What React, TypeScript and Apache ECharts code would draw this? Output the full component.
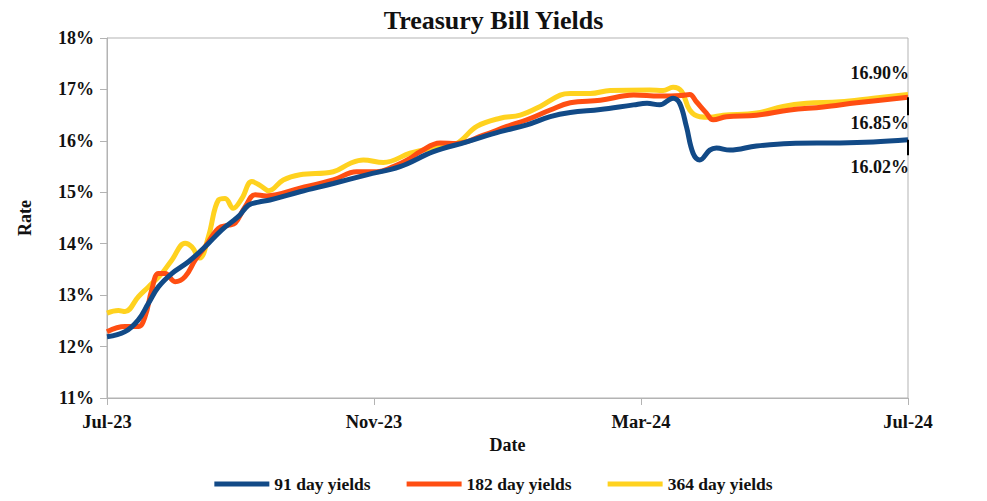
import React, { useEffect, useRef } from "react";
import * as echarts from "echarts";

// x positions are months elapsed since Jul-23
const tickLabels = ["Jul-23", "Nov-23", "Mar-24", "Jul-24"];

const months91 = [0, 0.27, 0.47, 0.62, 0.77, 0.97, 1.22, 1.47, 1.72, 1.97, 2.12, 2.27, 2.44, 2.89, 3.39, 3.89, 4.39, 4.89, 5.39, 5.89, 6.29, 6.64, 6.94, 7.39, 7.89, 8.09, 8.28, 8.48, 8.58, 8.68, 8.78, 8.88, 9.03, 9.13, 9.33, 9.73, 10.23, 10.98, 11.48, 12];
const yields91 = [12.19, 12.29, 12.52, 12.84, 13.16, 13.42, 13.65, 13.94, 14.27, 14.53, 14.75, 14.81, 14.85, 15.01, 15.17, 15.34, 15.5, 15.79, 15.98, 16.18, 16.31, 16.47, 16.55, 16.61, 16.7, 16.73, 16.7, 16.83, 16.73, 16.28, 15.76, 15.63, 15.82, 15.86, 15.82, 15.9, 15.95, 15.96, 15.98, 16.02];

const months182 = [0, 0.27, 0.47, 0.57, 0.67, 0.77, 0.87, 1.02, 1.17, 1.32, 1.47, 1.67, 1.82, 1.92, 2.07, 2.22, 2.39, 2.89, 3.39, 3.74, 4.04, 4.29, 4.54, 4.69, 4.99, 5.24, 5.64, 5.99, 6.29, 6.64, 6.94, 7.39, 7.89, 8.28, 8.6, 8.73, 8.83, 8.98, 9.08, 9.28, 9.73, 10.23, 10.73, 11.23, 12];
const yields182 = [12.29, 12.39, 12.39, 12.58, 13.1, 13.42, 13.42, 13.26, 13.36, 13.68, 13.94, 14.3, 14.36, 14.4, 14.72, 14.95, 14.93, 15.08, 15.24, 15.4, 15.4, 15.5, 15.66, 15.79, 15.96, 15.95, 16.11, 16.28, 16.41, 16.6, 16.74, 16.79, 16.89, 16.87, 16.88, 16.9, 16.76, 16.54, 16.41, 16.47, 16.5, 16.6, 16.66, 16.74, 16.85];

const months364 = [0, 0.17, 0.27, 0.47, 0.62, 0.82, 0.97, 1.17, 1.27, 1.39, 1.52, 1.67, 1.77, 1.89, 2.02, 2.17, 2.32, 2.42, 2.64, 2.89, 3.39, 3.64, 3.84, 4.14, 4.54, 4.69, 4.99, 5.24, 5.54, 5.89, 6.19, 6.49, 6.79, 6.94, 7.24, 7.54, 8.13, 8.33, 8.48, 8.61, 8.73, 8.88, 9.03, 9.23, 9.73, 10.13, 10.48, 10.98, 11.48, 12];
const yields364 = [12.65, 12.7, 12.68, 12.97, 13.16, 13.42, 13.68, 14.01, 13.94, 13.72, 14.14, 14.85, 14.88, 14.69, 14.88, 15.21, 15.11, 15.03, 15.24, 15.34, 15.4, 15.56, 15.63, 15.58, 15.76, 15.81, 15.89, 15.95, 16.28, 16.44, 16.5, 16.67, 16.89, 16.92, 16.92, 16.98, 16.99, 16.98, 17.04, 16.96, 16.6, 16.47, 16.46, 16.5, 16.54, 16.67, 16.73, 16.76, 16.83, 16.9];

const seriesNames = ["91 day yields", "182 day yields", "364 day yields"];
const seriesColors = ["#124a87", "#ff4e12", "#ffd21f"];

const FONT = "Liberation Serif";

const zip = (xs: number[], ys: number[]) => xs.map((x, i) => [x, ys[i]]);

export default function App() {
  const ref = useRef<HTMLDivElement>(null);
  useEffect(() => {
    if (!ref.current) return;
    document.body.style.margin = "0";
    const chart = echarts.init(ref.current, undefined, { renderer: "svg" });
    const textBase = { fontFamily: FONT, fontWeight: "bold" as const, color: "#111" };
    const endLabel = (dy: number) => ({
      show: true,
      formatter: (p: any) => `${Number(p.value[1]).toFixed(2)}%`,
      align: "right",
      verticalAlign: "middle",
      offset: [-7, dy],
      fontSize: 18,
      ...textBase,
    });
    const stub = (from: number, to: number) => ({
      silent: true,
      symbol: "none",
      label: { show: false },
      lineStyle: { color: "#000", width: 2, type: "solid" },
      data: [[{ coord: [12, from] }, { coord: [12, to] }]],
    });
    chart.setOption({
      animation: false,
      title: {
        text: "Treasury Bill Yields",
        left: "center",
        top: 2,
        textStyle: { ...textBase, fontSize: 26 },
      },
      grid: {
        left: 107,
        right: 79,
        top: 38,
        bottom: 103,
        show: true,
        borderColor: "#b3b3b3",
        borderWidth: 1,
      },
      legend: {
        bottom: 3,
        left: "center",
        icon: "rect",
        itemWidth: 55,
        itemHeight: 5,
        itemGap: 36,
        textStyle: { ...textBase, fontSize: 17.5 },
        data: seriesNames,
      },
      xAxis: {
        type: "value",
        min: 0,
        max: 12,
        interval: 4,
        name: "Date",
        nameLocation: "middle",
        nameGap: 28,
        nameTextStyle: { ...textBase, fontSize: 18 },
        axisLine: { lineStyle: { color: "#b3b3b3" } },
        axisTick: { show: true, length: 7, lineStyle: { color: "#b3b3b3" } },
        splitLine: { show: false },
        axisLabel: {
          ...textBase,
          fontSize: 18.5,
          margin: 14,
          formatter: (v: number) => tickLabels[Math.round(v / 4)] ?? "",
        },
      },
      yAxis: {
        type: "value",
        min: 11,
        max: 18,
        interval: 1,
        name: "Rate",
        nameLocation: "middle",
        nameGap: 73,
        nameRotate: 90,
        nameTextStyle: { ...textBase, fontSize: 18 },
        axisLine: { show: true, lineStyle: { color: "#b3b3b3" } },
        axisTick: { show: true, length: 7, lineStyle: { color: "#b3b3b3" } },
        splitLine: { show: false },
        axisLabel: {
          ...textBase,
          fontSize: 18,
          margin: 13,
          formatter: (v: number) => `${v}%`,
        },
      },
      series: [
        {
          name: seriesNames[0],
          type: "line",
          data: zip(months91, yields91),
          smooth: 0.4,
          showSymbol: false,
          symbol: "none",
          color: seriesColors[0],
          lineStyle: { width: 5, color: seriesColors[0] },
          endLabel: endLabel(27),
          markLine: stub(16.02, 15.72),
          z: 4,
        },
        {
          name: seriesNames[1],
          type: "line",
          data: zip(months182, yields182),
          smooth: 0.4,
          showSymbol: false,
          symbol: "none",
          color: seriesColors[1],
          lineStyle: { width: 5, color: seriesColors[1] },
          endLabel: endLabel(26),
          markLine: stub(16.85, 16.5),
          z: 3,
        },
        {
          name: seriesNames[2],
          type: "line",
          data: zip(months364, yields364),
          smooth: 0.4,
          showSymbol: false,
          symbol: "none",
          color: seriesColors[2],
          lineStyle: { width: 5, color: seriesColors[2] },
          endLabel: endLabel(-22),
          z: 2,
        },
      ],
    });
    return () => chart.dispose();
  }, []);
  return <div ref={ref} style={{ width: 987, height: 501 }} />;
}
